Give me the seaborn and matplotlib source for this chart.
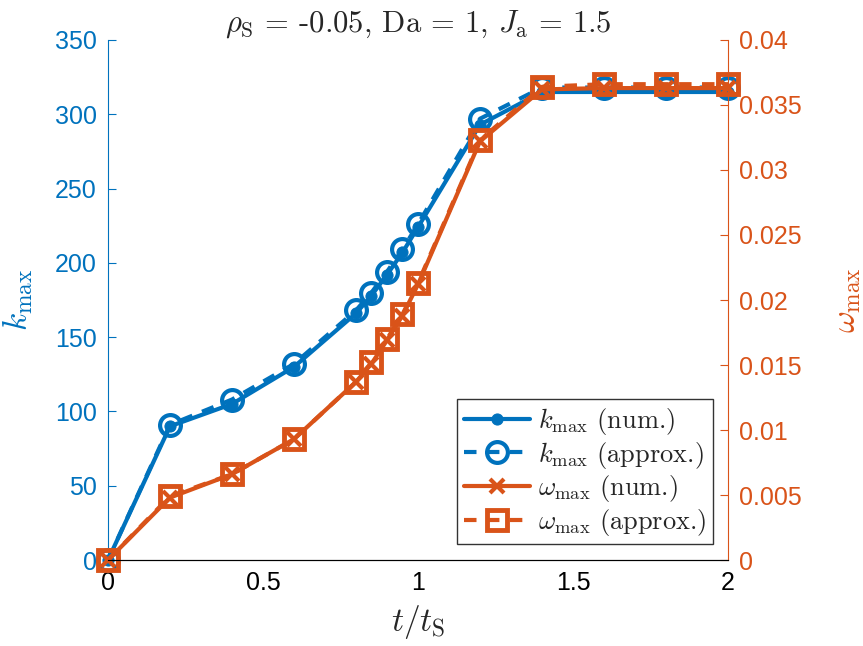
import numpy as np
import pandas as pd
import matplotlib
matplotlib.use("Agg")
import matplotlib.pyplot as plt
import seaborn as sns

# data
t = [0, 0.2, 0.4, 0.6, 0.8, 0.85, 0.9, 0.95, 1.0, 1.2, 1.4, 1.6, 1.8, 2.0]
k_num = [0, 90, 105, 130, 166, 178, 192, 207, 224, 293, 315, 315, 315, 315]
k_approx = [0, 91, 108, 132, 168, 180, 194, 209, 226, 297, 318, 318, 318, 318]
w_num = [0, 0.0048, 0.0066, 0.0093, 0.0137, 0.0151, 0.0169, 0.0188, 0.0212, 0.0322, 0.0362, 0.0363, 0.0363, 0.0363]
w_approx = [0, 0.0049, 0.0066, 0.0093, 0.0137, 0.0152, 0.0170, 0.0189, 0.0213, 0.0323, 0.0364, 0.0366, 0.0366, 0.0366]

df = pd.DataFrame({"t": t, "k_num": k_num, "k_approx": k_approx,
                   "w_num": w_num, "w_approx": w_approx})

blue = "#0072BD"
orange = "#D95319"

sns.set_style("white")
plt.rcParams["font.family"] = ["Liberation Sans", "DejaVu Sans"]
plt.rcParams["mathtext.fontset"] = "cm"
plt.rcParams["axes.unicode_minus"] = False

fig = plt.figure(figsize=(8.63, 6.46), dpi=100)
ax = fig.add_axes([0.1251, 0.1331, 0.8436 - 0.1251, 0.9381 - 0.1331])
ax2 = ax.twinx()

lw = 3
sns.lineplot(data=df, x="t", y="k_num", ax=ax, color=blue, lw=lw,
             marker="o", markersize=8, markeredgecolor=blue, clip_on=False,
             label=r"$k_{\mathrm{max}}$ (num.)", legend=False)
sns.lineplot(data=df, x="t", y="k_approx", ax=ax, color=blue, lw=lw,
             linestyle=(0, (3, 2.5)), marker="o", markersize=15, clip_on=False,
             markerfacecolor="none", markeredgecolor=blue, markeredgewidth=3,
             label=r"$k_{\mathrm{max}}$ (approx.)", legend=False)
sns.lineplot(data=df, x="t", y="w_num", ax=ax2, color=orange, lw=lw,
             marker="x", markersize=10, markeredgewidth=3, markeredgecolor=orange,
             clip_on=False, label=r"$\omega_{\mathrm{max}}$ (num.)", legend=False)
sns.lineplot(data=df, x="t", y="w_approx", ax=ax2, color=orange, lw=lw,
             linestyle=(0, (3, 2.5)), marker="s", markersize=15, clip_on=False,
             markerfacecolor="none", markeredgecolor=orange, markeredgewidth=3.5,
             label=r"$\omega_{\mathrm{max}}$ (approx.)", legend=False)

ax.set_xlim(0, 2)
ax.set_ylim(0, 350)
ax2.set_ylim(0, 0.04)
ax.set_xticks([0, 0.5, 1, 1.5, 2])
ax.set_xticklabels(["0", "0.5", "1", "1.5", "2"])
ax.set_yticks(np.arange(0, 351, 50))
ax2.set_yticks(np.arange(0, 0.0401, 0.005))
ax2.set_yticklabels(["0", "0.005", "0.01", "0.015", "0.02", "0.025",
                     "0.03", "0.035", "0.04"])

for a in (ax, ax2):
    a.spines["top"].set_visible(False)
    a.spines["bottom"].set_color("black")
ax.spines["left"].set_color(blue)
ax.spines["right"].set_visible(False)
ax2.spines["left"].set_visible(False)
ax2.spines["right"].set_color(orange)

ax.tick_params(axis="x", direction="in", length=6, labelsize=18, colors="black", pad=8)
ax.tick_params(axis="y", direction="in", length=6, labelsize=18, colors=blue, pad=8)
ax2.tick_params(axis="y", direction="in", length=6, labelsize=18, colors=orange, pad=8)

ax.set_xlabel(r"$t/t_{\mathrm{S}}$", fontsize=24, labelpad=6)
ax.set_ylabel(r"$k_{\mathrm{max}}$", fontsize=24, color=blue, labelpad=14)
ax2.set_ylabel(r"$\omega_{\mathrm{max}}$", fontsize=24, color=orange, rotation=90, labelpad=22)
ax.set_title(r"$\rho_{\mathrm{S}}$ = -0.05, Da = 1, $J_{\mathrm{a}}$ = 1.5",
             fontsize=22, family=["cmr10"], pad=6)

h1, l1 = ax.get_legend_handles_labels()
h2, l2 = ax2.get_legend_handles_labels()
leg = ax2.legend(h1 + h2, l1 + l2, loc="lower right", bbox_to_anchor=(0.975, 0.03),
                 prop={"family": "cmr10", "size": 19}, frameon=True, fancybox=False,
                 edgecolor="black", handlelength=2.5, handletextpad=0.3,
                 borderpad=0.25, labelspacing=0.1, borderaxespad=0)
leg.get_frame().set_linewidth(1)

fig.savefig("out.png", dpi=100)
